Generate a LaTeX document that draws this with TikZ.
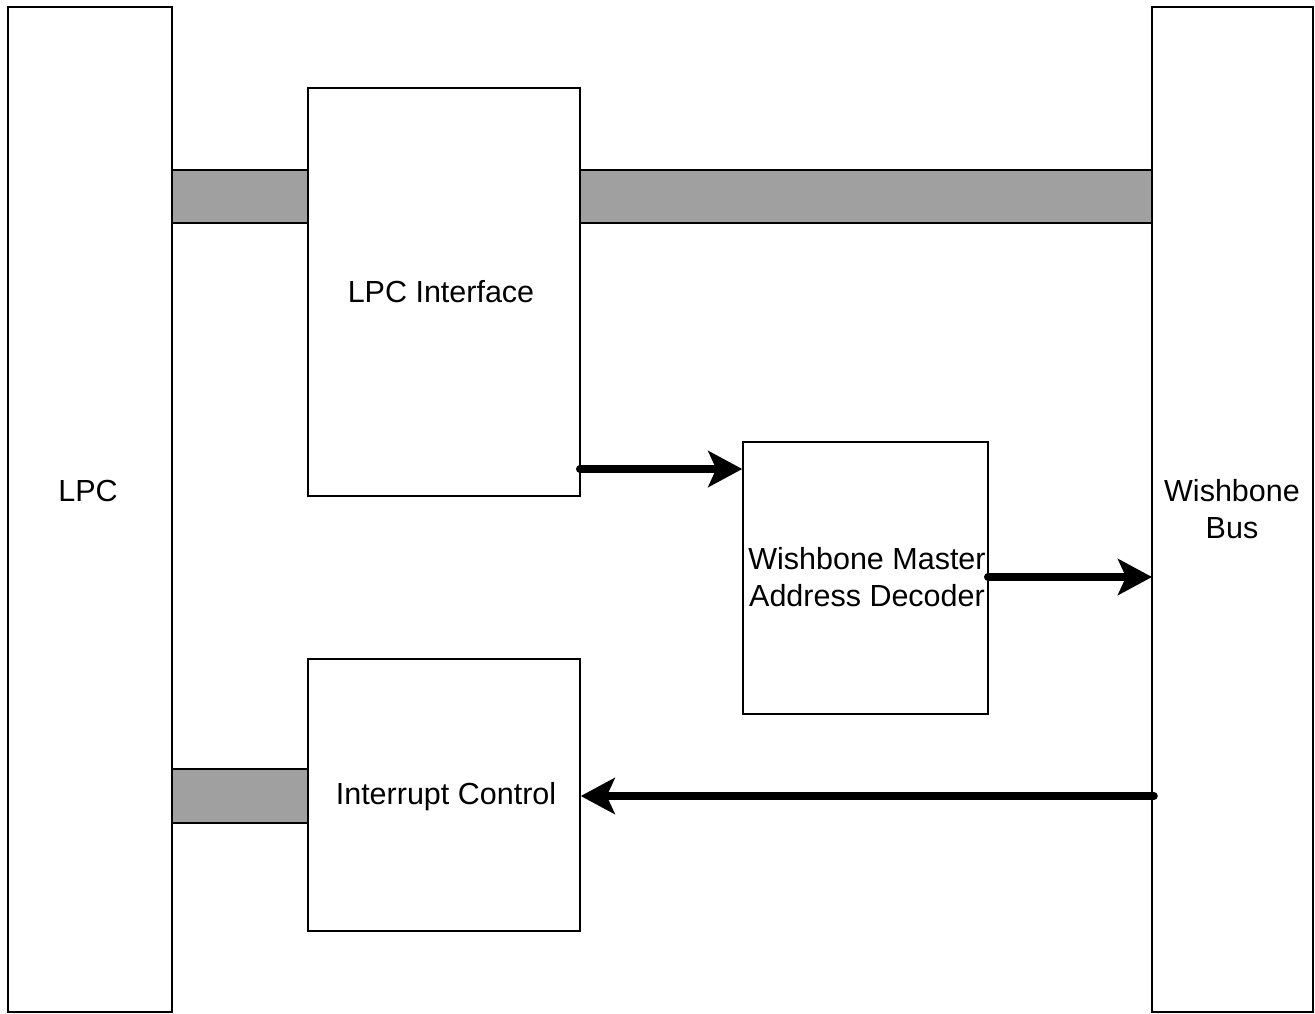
\documentclass[tikz,border=0pt]{standalone}
\usepackage{fontspec}
\setmainfont{Liberation Sans}
\usetikzlibrary{arrows.meta,calc}
\begin{document}
\begin{tikzpicture}[x=1pt,y=-1pt,
  box/.style={draw=black,line width=1.5pt,fill=white,inner sep=0pt},
  bar/.style={draw=black,line width=1.5pt,fill=barGray},
  lbl/.style={font=\fontsize{30.5}{37}\selectfont,align=center,inner sep=0pt},
  bigarrow/.style={line width=7.5pt,line cap=round,-{Stealth[length=34pt,width=36pt,inset=8pt]}}]
\definecolor{barGray}{HTML}{A0A0A0}
\useasboundingbox (0,0) rectangle (1315,1013);
\fill[white] (0,0) rectangle (1315,1013);
% gray bars
\draw[bar] (172,170) rectangle (308,223);
\draw[bar] (580,170) rectangle (1152,223);
\draw[bar] (172,769) rectangle (308,823);
% big side blocks
\draw[box] (8,7) rectangle (172,1012);
\draw[box] (1152,7) rectangle (1313,1012);
\node[lbl] (lpc) at (88,491) {LPC};
\node[lbl] (wb) at (1232,509) {Wishbone\\Bus};
% inner blocks
\node[box,minimum width=272pt,minimum height=408pt] (lpcif) at (444,292) {};
\node[lbl] (lpciftxt) at (441,292) {LPC Interface};
\node[box,minimum width=245pt,minimum height=272pt] (wmad) at (865.5,578) {};
\node[lbl] (wmadtxt) at (867,577) {Wishbone Master\\Address Decoder};
\node[box,minimum width=272pt,minimum height=272pt] (irq) at (444,795) {};
\node[lbl] (irqtxt) at (446,797) {Interrupt Control};
% arrows
\coordinate (a1s) at (lpcif.east |- 0,469);
\coordinate (a1e) at (wmad.west |- 0,469);
\draw[bigarrow] ($(a1s)+(-1,0)$) -- (a1e);
\coordinate (a2s) at (wmad.east |- 0,577);
\coordinate (a2e) at (1152,577);
\draw[bigarrow] ($(a2s)+(-1,0)$) -- (a2e);
\coordinate (a3s) at (1154,796);
\coordinate (a3e) at (irq.east |- 0,796);
\draw[bigarrow] (a3s) -- (a3e);
\end{tikzpicture}
\end{document}
